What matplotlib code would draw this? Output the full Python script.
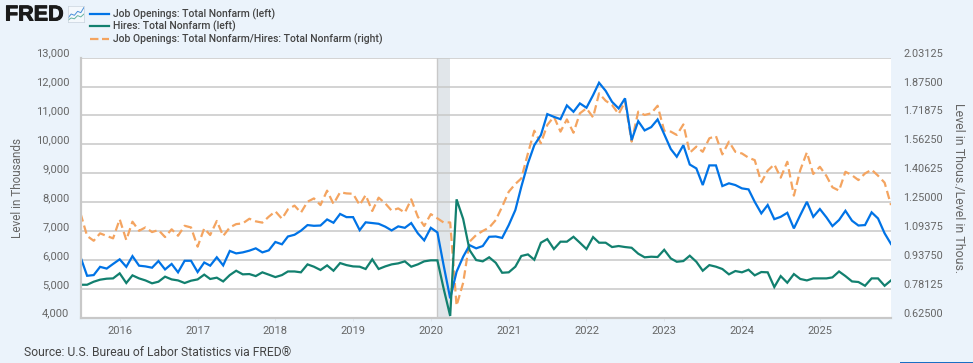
import matplotlib

matplotlib.use("Agg")
import matplotlib.pyplot as plt
import matplotlib.patheffects as path_effects
import matplotlib.transforms as mtransforms
from matplotlib.lines import Line2D
from matplotlib.patches import Rectangle
import numpy as np
import pandas as pd

W, H = 973, 363
BG = "#ebf3fb"
GRID = "#c8c8c8"
TEXT = "#666666"
DARK = "#444444"
BLUE = "#0073e6"
GREEN = "#12806f"
ORANGE = "#f4a460"
FONT = "Roboto"

months = pd.date_range("2015-07-01", "2025-12-01", freq="MS")

openings = [
    6100, 5450, 5475, 5760, 5700, 5860, 6020, 5760, 6130, 5800, 5775, 5730,
    5960, 5670, 5860, 5570, 5970, 5970, 5580, 5910, 5800, 6090, 5810, 6310,
    6225, 6260, 6320, 6400, 6260, 6330, 6620, 6540, 6810, 6870, 7010, 7205,
    7180, 7190, 7400, 7285, 7590, 7480, 7480, 7030, 7300, 7275, 7250, 7150,
    7020, 7160, 7110, 7275, 6920, 6675, 7110, 6950, 5820, 4670, 5590, 6110,
    6510, 6400, 6480, 6800, 6810, 6760, 7205, 7725, 8530, 9340, 9970, 10320,
    11045, 10950, 10870, 11345, 11125, 11415, 11265, 11700, 12130, 11850, 11470, 11240,
    11590, 10145, 10800, 10480, 10595, 10860, 10350, 9835, 9570, 9970, 9300, 9165,
    8590, 9270, 9270, 8555, 8650, 8590, 8475, 8440, 8010, 7610, 7900, 7410,
    7490, 7630, 7090, 7550, 8010, 7490, 7760, 7470, 7170, 7380, 7700, 7355,
    7190, 7205, 7645, 7435, 6920, 6550,
]
hires = [
    5140, 5140, 5245, 5315, 5350, 5360, 5535, 5200, 5465, 5360, 5290, 5190,
    5245, 5420, 5325, 5290, 5200, 5280, 5325, 5490, 5340, 5385, 5255, 5475,
    5625, 5500, 5510, 5440, 5570, 5490, 5405, 5475, 5600, 5600, 5570, 5845,
    5765, 5650, 5810, 5625, 5890, 5820, 5775, 5765, 5685, 6020, 5685, 5775,
    5845, 5880, 5950, 5765, 5845, 5950, 5985, 5985, 5015, 4060, 8095, 7415,
    6340, 5995, 5950, 6090, 5900, 5555, 5570, 5765, 6135, 6190, 6005, 6595,
    6720, 6375, 6630, 6630, 6800, 6595, 6375, 6790, 6595, 6595, 6445, 6480,
    6445, 6420, 6215, 6090, 6110, 6100, 6350, 6050, 5935, 5960, 6145, 5935,
    5625, 5820, 5765, 5685, 5500, 5615, 5570, 5660, 5465, 5580, 5570, 5060,
    5440, 5210, 5510, 5340, 5290, 5360, 5360, 5360, 5395, 5600, 5440, 5255,
    5235, 5105, 5360, 5360, 5105, 5290,
]
ratio = [
    1.189, 1.067, 1.041, 1.081, 1.067, 1.054, 1.157, 1.045, 1.144, 1.095, 1.113, 1.088,
    1.099, 1.061, 1.103, 1.068, 1.122, 1.113, 1.009, 1.108, 1.072, 1.148, 1.067, 1.113,
    1.131, 1.135, 1.160, 1.146, 1.139, 1.171, 1.200, 1.160, 1.211, 1.231, 1.193, 1.252,
    1.270, 1.234, 1.312, 1.240, 1.303, 1.297, 1.295, 1.234, 1.288, 1.202, 1.274, 1.243,
    1.204, 1.216, 1.193, 1.265, 1.171, 1.121, 1.185, 1.162, 1.140, 1.140, 0.690, 0.814,
    1.036, 1.072, 1.094, 1.112, 1.153, 1.225, 1.306, 1.348, 1.378, 1.513, 1.636, 1.568,
    1.667, 1.712, 1.631, 1.697, 1.625, 1.730, 1.757, 1.708, 1.838, 1.798, 1.775, 1.726,
    1.793, 1.577, 1.739, 1.721, 1.730, 1.771, 1.636, 1.631, 1.613, 1.670, 1.517, 1.550,
    1.522, 1.595, 1.607, 1.508, 1.577, 1.522, 1.513, 1.490, 1.477, 1.357, 1.420, 1.454,
    1.382, 1.468, 1.285, 1.423, 1.519, 1.402, 1.441, 1.391, 1.330, 1.312, 1.414, 1.395,
    1.369, 1.405, 1.425, 1.393, 1.355, 1.234,
]

left_ticks = [4000, 5000, 6000, 7000, 8000, 9000, 10000, 11000, 12000, 13000]
right_ticks = [0.625, 0.78125, 0.9375, 1.09375, 1.25, 1.40625, 1.5625, 1.71875, 1.875, 2.03125]
years = list(range(2016, 2026))
recession = ("2020-02-01", "2020-04-01")

series_names = [
    "Job Openings: Total Nonfarm (left)",
    "Hires: Total Nonfarm (left)",
    "Job Openings: Total Nonfarm/Hires: Total Nonfarm (right)",
]


def fx(px):
    return px / W


def fy(py):
    return 1 - py / H


fig = plt.figure(figsize=(W / 100, H / 100), dpi=100, facecolor=BG)
plt.rcParams["font.family"] = [FONT, "DejaVu Sans"]

# ax2 sits behind: white background, grid, shading and the dashed ratio line
ax = fig.add_axes([fx(80.5), fy(317.7), fx(891 - 80.5), (317.7 - 57.6) / H])
ax2 = ax.twinx()
ax.set_zorder(2)
ax2.set_zorder(1)
ax.patch.set_visible(False)
ax2.patch.set_facecolor("white")
ax2.patch.set_visible(True)

ax2.axvspan(pd.Timestamp(recession[0]), pd.Timestamp(recession[1]), color="#e1e6ea", lw=0, zorder=0)
ax2.axvline(pd.Timestamp(recession[0]), color=GRID, lw=1.0, zorder=0.5)
ax2.grid(axis="y", color=GRID, lw=1.1, zorder=1)
ax2.set_axisbelow(True)

ax2.plot(months, ratio, color=ORANGE, lw=1.6, dashes=(3.8, 1.9), zorder=3)
ax.plot(months, openings, color=BLUE, lw=1.6, solid_joinstyle="miter")
ax.plot(months, hires, color=GREEN, lw=1.6, solid_joinstyle="miter")

ax.set_xlim(months[0], months[-1])
ax.set_ylim(4000, 13000)
ax2.set_ylim(0.625, 2.03125)
ax.set_yticks(left_ticks)
ax.set_yticklabels([f"{v:,}" for v in left_ticks])
ax2.set_yticks(right_ticks)
ax2.set_yticklabels([f"{v:.5f}" for v in right_ticks])
ax.set_xticks([pd.Timestamp(f"{y}-01-01") for y in years])
ax.set_xticklabels([str(y) for y in years])

ax.tick_params(axis="y", length=0, pad=8, labelsize=8.0, labelcolor=TEXT)
ax2.tick_params(axis="y", length=0, pad=9, labelsize=7.8, labelcolor=TEXT)
ax.tick_params(axis="x", length=2, width=0.6, color="#dde3ea", pad=4, labelsize=8.0, labelcolor=TEXT)

# y labels sit 5 px above their gridline
raise_labels = mtransforms.ScaledTranslation(0, 5 / 100, fig.dpi_scale_trans)
for axis in (ax, ax2):
    for label in axis.get_yticklabels():
        label.set_transform(label.get_transform() + raise_labels)
    for name in ("top", "right"):
        axis.spines[name].set_visible(False)
    for name in ("left", "bottom"):
        axis.spines[name].set_color(GRID)
        axis.spines[name].set_linewidth(1.5)

fig.text(fx(18), fy(188), "Level in Thousands", rotation=90, ha="center", va="center",
         fontsize=8.5, color=TEXT)
fig.text(fx(958), fy(188), "Level in Thous./Level in Thous.", rotation=270, ha="center", va="center",
         fontsize=8.9, color=TEXT)
fig.text(fx(24), fy(352), "Source: U.S. Bureau of Labor Statistics via FRED®", ha="left", va="center",
         fontsize=8.7, color=DARK)

# header: logo and legend
logo = fig.text(fx(5), fy(15), "FRED", ha="left", va="center", fontsize=15.5, fontweight="black",
                family=["Liberation Sans", "DejaVu Sans"], color="#1a1a1a")
logo.set_path_effects([path_effects.withStroke(linewidth=0.7, foreground="#1a1a1a")])
icon = fig.add_axes([fx(68), fy(22), fx(16), 16 / H])
icon.set_facecolor("#f4f8fc")
icon.set_xticks([])
icon.set_yticks([])
for spine in icon.spines.values():
    spine.set_color("#c9d3dd")
    spine.set_linewidth(0.5)
icon.plot([0, 1, 2, 3, 4, 5], [1.5, 3, 2.5, 4, 3.5, 5.5], color="#4a90d9", lw=0.7)
icon.plot([0, 1, 2, 3, 4, 5], [0.7, 1.5, 1.2, 2.4, 1.9, 3], color="#63b3a0", lw=0.7)
icon.set_xlim(0, 5)
icon.set_ylim(0, 6)

rows = [14, 26, 39]
line_styles = [
    {"color": BLUE, "lw": 1.6},
    {"color": GREEN, "lw": 1.6},
    {"color": ORANGE, "lw": 1.6, "dashes": (3.8, 1.6)},
]
for py, name, style in zip(rows, series_names, line_styles):
    fig.add_artist(Line2D([fx(90), fx(109)], [fy(py), fy(py)], **style))
    fig.text(fx(113), fy(py), name, ha="left", va="center", fontsize=7.5, fontweight="medium", color=DARK)

# edge of the page button under the chart
fig.add_artist(Rectangle((fx(900), 0), fx(73), 1.5 / H, transform=fig.transFigure, color="#1a6fc4", lw=0))

fig.savefig("out.png", dpi=100, facecolor=BG)
